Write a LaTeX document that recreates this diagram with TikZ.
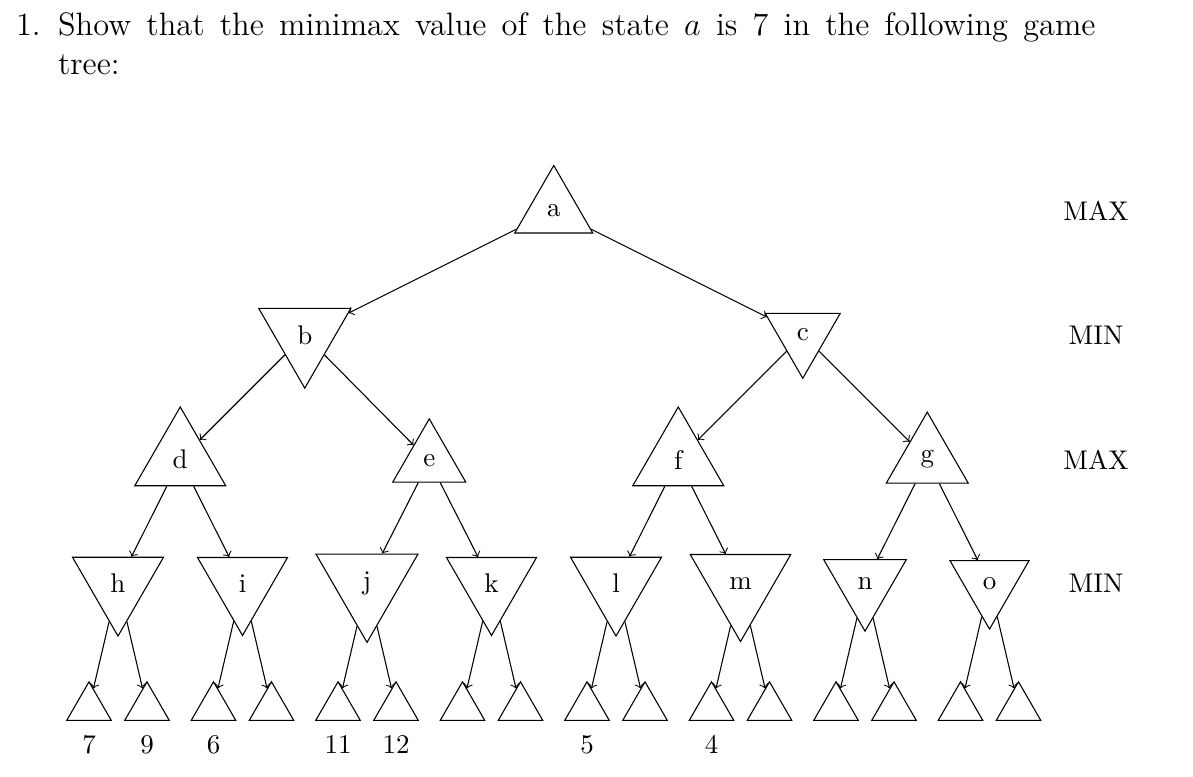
\documentclass[tikz,border=0pt]{standalone}
\usepackage{tikz}
\usetikzlibrary{shapes.geometric}
\newcommand{\unitpx}{0.3704}
\newcommand{\qfont}{\fontsize{12}{14.5}\selectfont}
\tikzset{maxnode/.style={draw,regular polygon,regular polygon sides=3,inner sep=0pt,
		minimum size={#1*\unitpx*1.1547pt}},maxnode/.default=44.5,
	minnode/.style={maxnode=#1,shape border rotate=180},
	leaf/.style={maxnode=44.5},
	qtext/.style={inner sep=0pt,anchor=base west,font=\qfont}}

\begin{document}
\begin{tikzpicture}[x=\unitpx pt,y=-\unitpx pt,label distance=1.8pt]
		\useasboundingbox (0,0) rectangle (1193,776);
		
		% question
		\node [qtext] (qnum) at (15.5,36) {1.};
		\node [qtext] (qline) at (57.5,36)
			{\makebox[384.3pt][s]{Show that the minimax value of the state $a$ is 7 in the following game}};
		\node [qtext] (qtree) at (57.5,75) {tree:};
		
		% levels
		\node (lvl0) at (1096,210.5) {MAX};
		\node (lvl1) at (1096,335) {MIN};
		\node (lvl2) at (1096,459.5) {MAX};
		\node (lvl3) at (1096,583.5) {MIN};
		
		\node [maxnode=78] (a) at (553.75,210.5) {a};
		
		\node [minnode=92] (b) at (304.75,335) {b};
		\node [minnode=75] (c) at (802.75,335) {c};
		
		\node [maxnode=91] (d) at (180.25,459.5) {d};
		\node [maxnode=73] (e) at (429.25,461) {e};
		\node [maxnode=91] (f) at (678.25,459.5) {f};
		\node [maxnode=82] (g) at (927.25,459.5) {g};
		
		\node [minnode=91] (h) at (118,583.5) {h};
		\node [minnode=90] (i) at (242.5,583.5) {i};
		\node [minnode=102] (j) at (367,583.5) {j};
		\node [minnode=90] (k) at (491.5,583.5) {k};
		\node [minnode=91] (l) at (616,583.5) {l};
		\node [minnode=100.5] (m) at (740.5,583.5) {m};
		\node [minnode=82.5] (n) at (865,583.5) {n};
		\node [minnode=79] (o) at (989.5,583.5) {o};
		
		% leaves
		\node [leaf,label=below:7] (h1) at (89,707.5) {};
		\node [leaf,label=below:9] (h2) at (147,707.5) {};
		\node [leaf,label=below:6] (i1) at (213.5,707.5) {};
		\node [leaf] (i2) at (271.5,707.5) {};
		\node [leaf,label=below:11] (j1) at (338,707.5) {};
		\node [leaf,label=below:12] (j2) at (396,707.5) {};
		\node [leaf] (k1) at (462.5,707.5) {};
		\node [leaf] (k2) at (520.5,707.5) {};
		\node [leaf,label=below:5] (l1) at (587,707.5) {};
		\node [leaf] (l2) at (645,707.5) {};
		\node [leaf,label=below:4] (m1) at (711.5,707.5) {};
		\node [leaf] (m2) at (769.5,707.5) {};
		\node [leaf] (n1) at (836,707.5) {};
		\node [leaf] (n2) at (894,707.5) {};
		\node [leaf] (o1) at (960.5,707.5) {};
		\node [leaf] (o2) at (1018.5,707.5) {};
		
		\draw [->] (a) -- (b);
		\draw [->] (a) -- (c);
		\draw [->] (b) -- (d);
		\draw [->] (b) -- (e);
		\draw [->] (c) -- (f);
		\draw [->] (c) -- (g);
		\draw [->] (d) -- (h);
		\draw [->] (d) -- (i);
		\draw [->] (e) -- (j);
		\draw [->] (e) -- (k);
		\draw [->] (f) -- (l);
		\draw [->] (f) -- (m);
		\draw [->] (g) -- (n);
		\draw [->] (g) -- (o);
		
		\draw [->] (h) -- (h1);
		\draw [->] (h) -- (h2);
		\draw [->] (i) -- (i1);
		\draw [->] (i) -- (i2);
		\draw [->] (j) -- (j1);
		\draw [->] (j) -- (j2);
		\draw [->] (k) -- (k1);
		\draw [->] (k) -- (k2);
		\draw [->] (l) -- (l1);
		\draw [->] (l) -- (l2);
		\draw [->] (m) -- (m1);
		\draw [->] (m) -- (m2);
		\draw [->] (n) -- (n1);
		\draw [->] (n) -- (n2);
		\draw [->] (o) -- (o1);
		\draw [->] (o) -- (o2);
		
	\end{tikzpicture}
\end{document}
